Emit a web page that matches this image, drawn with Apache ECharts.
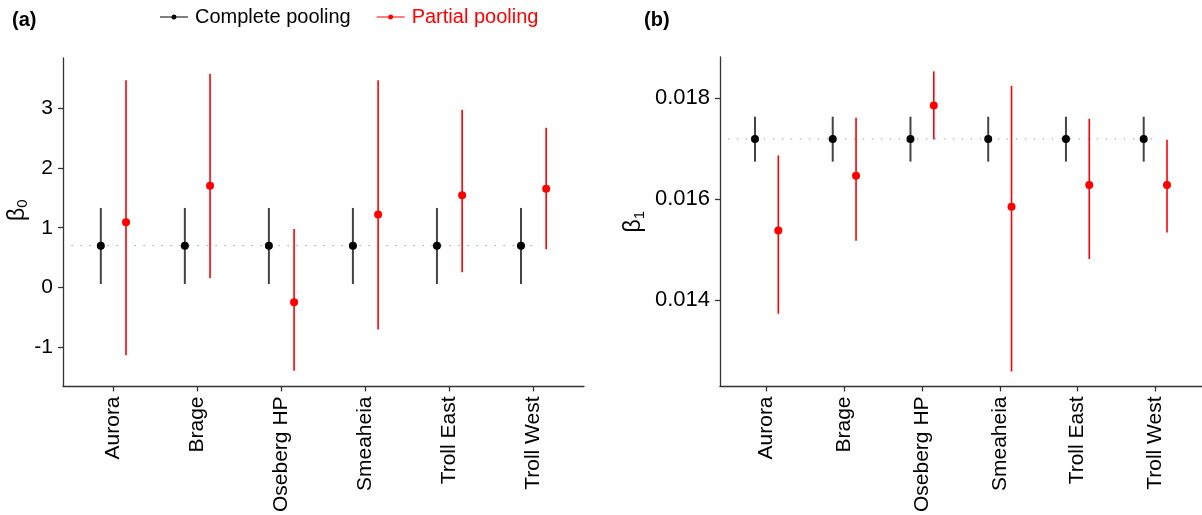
<!DOCTYPE html>
<html>
<head>
<meta charset="utf-8">
<script src="https://cdn.jsdelivr.net/npm/echarts@6/dist/echarts.min.js"></script>
<style>
html,body{margin:0;padding:0;background:#fff;}
#chart{width:1202px;height:515px;}
</style>
</head>
<body>
<div id="chart"></div>
<script>
const categories = ['Aurora', 'Brage', 'Oseberg HP', 'Smeaheia', 'Troll East', 'Troll West'];
const legendNames = ['Complete pooling', 'Partial pooling'];

// Panel (a): beta0
const b0CompleteMid = [0.70, 0.70, 0.70, 0.70, 0.70, 0.70];
const b0CompleteLo  = [0.06, 0.06, 0.06, 0.06, 0.06, 0.06];
const b0CompleteHi  = [1.33, 1.33, 1.33, 1.33, 1.33, 1.33];
const b0PartialMid  = [1.09, 1.70, -0.245, 1.22, 1.54, 1.65];
const b0PartialLo   = [-1.13, 0.155, -1.39, -0.70, 0.255, 0.64];
const b0PartialHi   = [3.46, 3.57, 0.98, 3.46, 2.97, 2.67];
const b0Ticks = [-1, 0, 1, 2, 3];

// Panel (b): beta1
const b1CompleteMid = [0.01719, 0.01719, 0.01719, 0.01719, 0.01719, 0.01719];
const b1CompleteLo  = [0.01674, 0.01674, 0.01674, 0.01674, 0.01674, 0.01674];
const b1CompleteHi  = [0.01763, 0.01763, 0.01763, 0.01763, 0.01763, 0.01763];
const b1PartialMid  = [0.015378, 0.016461, 0.017853, 0.015848, 0.016277, 0.016277];
const b1PartialLo   = [0.013729, 0.015174, 0.017180, 0.012586, 0.014812, 0.015339];
const b1PartialHi   = [0.016863, 0.017610, 0.018527, 0.018244, 0.017590, 0.017174];
const b1Ticks = [0.014, 0.016, 0.018];

const FONT = 'Liberation Sans, Arial, Helvetica, sans-serif';
const catPos = categories.map((c, i) => i + 1);
const DODGE = 0.15;

function build(mid, lo, hi, shift) {
  return categories.map((c, i) => [i + 1 + shift, mid[i], lo[i], hi[i]]);
}

function makeRender(color, lw, r) {
  return function (params, api) {
    const x = api.value(0);
    const pLo = api.coord([x, api.value(2)]);
    const pHi = api.coord([x, api.value(3)]);
    const pM = api.coord([x, api.value(1)]);
    return {
      type: 'group',
      children: [
        { type: 'line', shape: { x1: pLo[0], y1: pLo[1], x2: pHi[0], y2: pHi[1] },
          style: { stroke: color.bar, lineWidth: lw } },
        { type: 'circle', shape: { cx: pM[0], cy: pM[1], r: r },
          style: { fill: color.pt } }
      ]
    };
  };
}

const blackCol = { bar: '#444444', pt: '#000000' };
const redCol = { bar: '#ff0000', pt: '#ff0000' };

function xAxis(gridIndex) {
  return {
    type: 'value', gridIndex: gridIndex, min: 0.4, max: 6.6,
    axisLine: { show: true, onZero: false, lineStyle: { color: '#333', width: 1.3 } },
    axisTick: { show: true, length: 5, customValues: catPos, lineStyle: { color: '#333', width: 1.3 } },
    axisLabel: { show: true, customValues: catPos, rotate: 90, margin: 10, color: '#000',
      fontSize: 21, fontFamily: FONT,
      formatter: v => categories[Math.round(v) - 1] },
    splitLine: { show: false }
  };
}

const legendIcon = 'path://M0 2.1H28V2.9H0Z M14 0A2.5 2.5 0 1 1 13.99 0Z';

const option = {
  animation: false,
  backgroundColor: '#ffffff',
  title: [
    { text: '(a)', left: 12, top: 10, padding: 0, textStyle: { fontSize: 20, fontWeight: 'bold', color: '#000', fontFamily: FONT } },
    { text: '(b)', left: 644, top: 10, padding: 0, textStyle: { fontSize: 20, fontWeight: 'bold', color: '#000', fontFamily: FONT } }
  ],
  legend: {
    left: 160, top: 7, padding: 0, itemWidth: 28, itemHeight: 5, itemGap: 26,
    icon: legendIcon,
    textStyle: { fontSize: 20, fontFamily: FONT, padding: [0, 0, 0, 2] },
    data: [
      { name: legendNames[0], textStyle: { color: '#000000' } },
      { name: legendNames[1], textStyle: { color: '#ff0000' } }
    ]
  },
  grid: [
    { left: 63, top: 58, width: 521, height: 329 },
    { left: 720, top: 57, width: 484, height: 330 }
  ],
  xAxis: [xAxis(0), xAxis(1)],
  yAxis: [
    {
      type: 'value', gridIndex: 0, min: -1.65, max: 3.833,
      name: '{b|β}{s|0}', nameLocation: 'middle', nameRotate: 90, nameGap: 30,
      nameTextStyle: { color: '#000', padding: [0, 0, 0, 24], rich: {
        b: { fontSize: 23, fontFamily: FONT, color: '#000', lineHeight: 26 },
        s: { fontSize: 15, fontFamily: FONT, color: '#000', verticalAlign: 'bottom', lineHeight: 18 } } },
      axisLine: { show: true, onZero: false, lineStyle: { color: '#333', width: 1.3 } },
      axisTick: { show: true, length: 5, customValues: b0Ticks, lineStyle: { color: '#333', width: 1.3 } },
      axisLabel: { customValues: b0Ticks, margin: 10, color: '#000', fontSize: 21, fontFamily: FONT,
        formatter: v => String(Math.round(v)) },
      splitLine: { show: false }
    },
    {
      type: 'value', gridIndex: 1, min: 0.012289, max: 0.018812,
      name: '{b|β}{s|1}', nameLocation: 'middle', nameRotate: 90, nameGap: 73,
      nameTextStyle: { color: '#000', rich: {
        b: { fontSize: 23, fontFamily: FONT, color: '#000', lineHeight: 26 },
        s: { fontSize: 15, fontFamily: FONT, color: '#000', verticalAlign: 'bottom', lineHeight: 18 } } },
      axisLine: { show: true, onZero: false, lineStyle: { color: '#333', width: 1.3 } },
      axisTick: { show: true, length: 5, customValues: b1Ticks, lineStyle: { color: '#333', width: 1.3 } },
      axisLabel: { customValues: b1Ticks, margin: 10, color: '#000', fontSize: 22, fontFamily: FONT,
        formatter: v => v.toFixed(3) },
      splitLine: { show: false }
    }
  ],
  series: [
    { type: 'line', xAxisIndex: 0, yAxisIndex: 0, silent: true, showSymbol: false, z: 1,
      data: [[0.5, b0CompleteMid[0]], [6.0, b0CompleteMid[5]]],
      lineStyle: { color: '#b0b0b0', width: 1.3, type: [1.5, 7.5] } },
    { type: 'line', xAxisIndex: 1, yAxisIndex: 1, silent: true, showSymbol: false, z: 1,
      data: [[0.5, b1CompleteMid[0]], [6.0, b1CompleteMid[5]]],
      lineStyle: { color: '#b0b0b0', width: 1.3, type: [1.5, 7.5] } },
    { name: legendNames[0], type: 'custom', xAxisIndex: 0, yAxisIndex: 0, z: 3,
      itemStyle: { color: '#000000' }, renderItem: makeRender(blackCol, 2, 4),
      data: build(b0CompleteMid, b0CompleteLo, b0CompleteHi, -DODGE) },
    { name: legendNames[1], type: 'custom', xAxisIndex: 0, yAxisIndex: 0, z: 3,
      itemStyle: { color: '#ff0000' }, renderItem: makeRender(redCol, 1.6, 4),
      data: build(b0PartialMid, b0PartialLo, b0PartialHi, DODGE) },
    { name: legendNames[0], type: 'custom', xAxisIndex: 1, yAxisIndex: 1, z: 3,
      itemStyle: { color: '#000000' }, renderItem: makeRender(blackCol, 2, 4),
      data: build(b1CompleteMid, b1CompleteLo, b1CompleteHi, -DODGE) },
    { name: legendNames[1], type: 'custom', xAxisIndex: 1, yAxisIndex: 1, z: 3,
      itemStyle: { color: '#ff0000' }, renderItem: makeRender(redCol, 1.6, 4),
      data: build(b1PartialMid, b1PartialLo, b1PartialHi, DODGE) }
  ]
};

const chart = echarts.init(document.getElementById('chart'), null, { renderer: 'canvas' });
chart.setOption(option);
</script>
</body>
</html>
